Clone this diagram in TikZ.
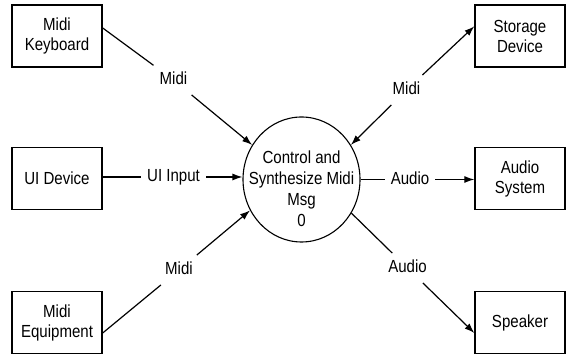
\documentclass[tikz,border=0pt]{standalone}
\usepackage{fontspec}
\setmainfont[FakeStretch=0.86]{Liberation Sans}
\usetikzlibrary{arrows.meta, shapes.geometric}
\tikzset{
  extbox/.style   = {draw, line width=1.3pt, minimum width=90pt, minimum height=62pt,
                     align=center, font=\fontsize{17.5}{20}\selectfont, inner sep=2pt},
  procnode/.style = {ellipse, draw, line width=1.1pt, minimum width=117pt,
                     minimum height=125pt, inner sep=0pt},
  proctext/.style = {align=center, font=\fontsize{17.5}{21}\selectfont, yshift=-9.5pt},
  flowlab/.style  = {font=\fontsize{17.5}{20}\selectfont, inner xsep=6pt, inner ysep=7pt,
                     text height=12.5pt, text depth=3pt},
  flow/.style     = {line width=1.2pt},
  flowarr/.style  = {flow, -{Latex[length=10pt, width=7pt]}},
}

\begin{document}
\begin{tikzpicture}[x=1pt, y=1pt]
  \useasboundingbox (0,0) rectangle (567,358);
  % external entities
  \node[extbox] (kbd)   at (57,322)    {Midi\\Keyboard};
  \node[extbox] (uidev) at (57,179.5)  {UI Device};
  \node[extbox] (equip) at (57,35.5)   {Midi\\Equipment};
  \node[extbox] (store) at (520,322)   {Storage\\Device};
  \node[extbox] (asys)  at (520,179.5) {Audio\\System};
  \node[extbox] (spk)   at (520,35.5)  {Speaker};
  % process bubble
  \node[procnode, label={[proctext]center:Control and\\Synthesize Midi\\Msg\\0}] (proc) at (301.5,178.5) {};
  % flow labels
  \node[flowlab] (kmidi)  at (173.5,278) {Midi};
  \node[flowlab] (uiin)   at (173.5,181) {UI Input};
  \node[flowlab] (emidi)  at (179,88)    {Midi};
  \node[flowlab] (smidi)  at (406.5,268) {Midi};
  \node[flowlab] (aaud)   at (410,178.5) {Audio};
  \node[flowlab] (saud)   at (407.5,90)  {Audio};
  % flows into the process
  \draw[flow] (kbd.10) -- (kmidi);
  \draw[flowarr] (kmidi) -- (proc.145);
  \draw[flow] (uidev.east |- uiin) -- (uiin);
  \draw[flowarr] (uiin) -- (proc.west |- uiin);
  \draw[flow] (equip.-13) -- (emidi);
  \draw[flowarr] (emidi) -- (proc.211);
  % flows out of the process
  \draw[flowarr] (smidi) -- (proc.35);
  \draw[flowarr] (smidi) -- (store.168);
  \draw[flow] (proc.east |- aaud) -- (aaud);
  \draw[flowarr] (aaud) -- (asys.west |- aaud);
  \draw[flow] (proc.-34) -- (saud);
  \draw[flowarr] (saud) -- (spk.193);
\end{tikzpicture}
\end{document}
